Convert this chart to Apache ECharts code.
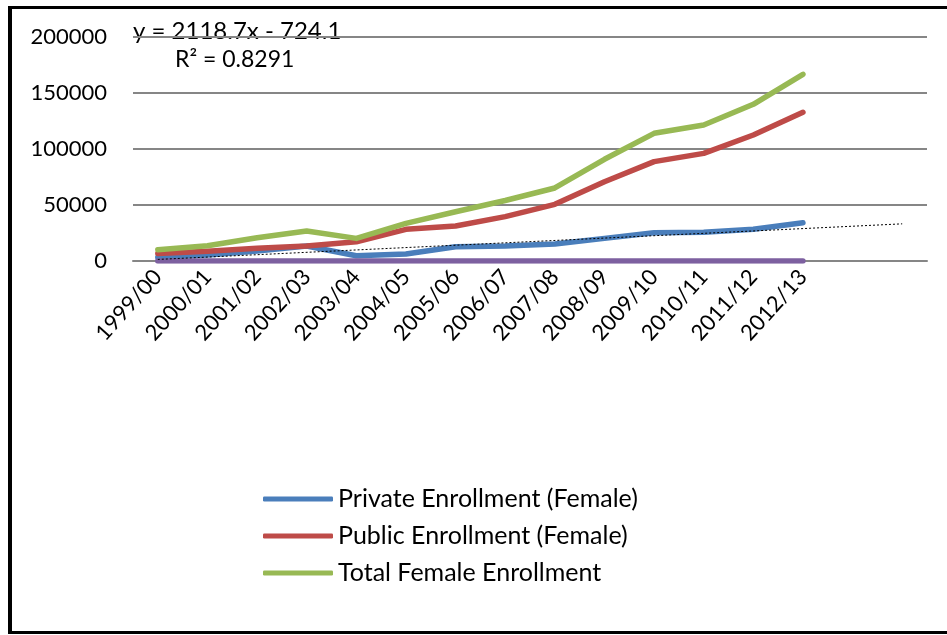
<!DOCTYPE html>
<html>
<head>
<meta charset="utf-8">
<title>Female Enrollment</title>
<style>
	html, body { margin: 0; padding: 0; background: #fff; overflow: hidden; }
	#chart { width: 947px; height: 635px; }
	/* black frame round the chart (no right edge in the picture) */
	#frame {
		position: absolute; left: 8px; top: 6px; width: 960px; height: 622px;
		border-left: 4px solid #000; border-top: 3px solid #000; border-bottom: 3px solid #000;
		pointer-events: none;
	}
</style>
<script src="https://cdn.jsdelivr.net/npm/echarts@6/dist/echarts.min.js"></script>
</head>
<body>
<div id="chart"></div>
<div id="frame"></div>
<script>
	// categories (two blank slots at the end for the trendline forecast)
	const categories = ["1999/00", "2000/01", "2001/02", "2002/03", "2003/04", "2004/05", "2005/06",
		"2006/07", "2007/08", "2008/09", "2009/10", "2010/11", "2011/12", "2012/13", " ", "  "];

	const privateFemale = [3300, 5400, 8900, 13400, 4700, 6200, 12800, 13400, 15200, 20200, 25300, 25600, 28300, 34200];
	const publicFemale = [6800, 8600, 11300, 13400, 17200, 28300, 31300, 39600, 50600, 70800, 88700, 96100, 112500, 132800];
	const totalFemale = [10100, 13600, 20800, 26800, 20200, 33600, 44000, 54000, 65200, 90800, 114000, 121400, 139900, 166700];
	const otherSeries = [0, 0, 0, 0, 0, 0, 0, 0, 0, 0, 0, 0, 0, 0];

	// linear trend of private enrollment, first and last point (y = 2118.7x - 724.1)
	const trendEnds = [1395, 33175];

	const yTicks = { min: 0, max: 200000, interval: 50000 };

	const trendData = categories.map(() => null);
	trendData[0] = trendEnds[0];
	trendData[categories.length - 1] = trendEnds[1];

	const font = "Lato, 'Noto Sans', sans-serif";
	const myChart = echarts.init(document.getElementById("chart"));

	function lineSeries(name, data, color) {
		return {
			name: name,
			type: "line",
			data: data,
			showSymbol: false,
			lineStyle: { width: 5.5, color: color, cap: "round", join: "round" },
			itemStyle: { color: color }
		};
	}

	const option = {
		animation: false,
		textStyle: { fontFamily: font },
		grid: { left: 133, right: 20, top: 37, bottom: 374, containLabel: false },
		xAxis: {
			type: "category",
			data: categories,
			boundaryGap: true,
			axisLine: { lineStyle: { color: "#868686", width: 2 } },
			axisTick: { show: false },
			axisLabel: { rotate: 48, interval: 0, fontSize: 22, color: "#000", fontFamily: font, margin: 12 }
		},
		yAxis: {
			type: "value",
			min: yTicks.min,
			max: yTicks.max,
			interval: yTicks.interval,
			axisLine: { show: false },
			axisTick: { show: false },
			axisLabel: {
				fontSize: 22, color: "#000", fontFamily: font, margin: 26,
				formatter: (v) => String(v) // no thousands separator
			},
			splitLine: { lineStyle: { color: "#868686", width: 2 } }
		},
		legend: {
			data: ["Private Enrollment (Female)", "Public Enrollment (Female)", "Total Female Enrollment"],
			orient: "vertical",
			left: 258,
			top: 481,
			icon: "roundRect",
			itemWidth: 70,
			itemHeight: 5,
			itemGap: 11,
			textStyle: { fontSize: 25, color: "#000", fontFamily: font, lineHeight: 26 }
		},
		graphic: [
			{ type: "text", left: 133, top: 19, style: { text: "y = 2118.7x - 724.1", fontSize: 24, fill: "#000", fontFamily: font } },
			{ type: "text", left: 175, top: 48, style: { text: "R² = 0.8291", fontSize: 23, fill: "#000", fontFamily: font } }
		],
		series: [
			lineSeries("Private Enrollment (Female)", privateFemale, "#4A7EBB"),
			lineSeries("Public Enrollment (Female)", publicFemale, "#BE4B48"),
			lineSeries("Total Female Enrollment", totalFemale, "#98B954"),
			lineSeries("Series4", otherSeries, "#7D60A0"),
			{
				name: "Linear (Private Enrollment (Female))",
				type: "line",
				data: trendData,
				connectNulls: true,
				showSymbol: false,
				lineStyle: { width: 1, color: "#000", type: [2, 2] }
			}
		]
	};

	myChart.setOption(option);
</script>
</body>
</html>
